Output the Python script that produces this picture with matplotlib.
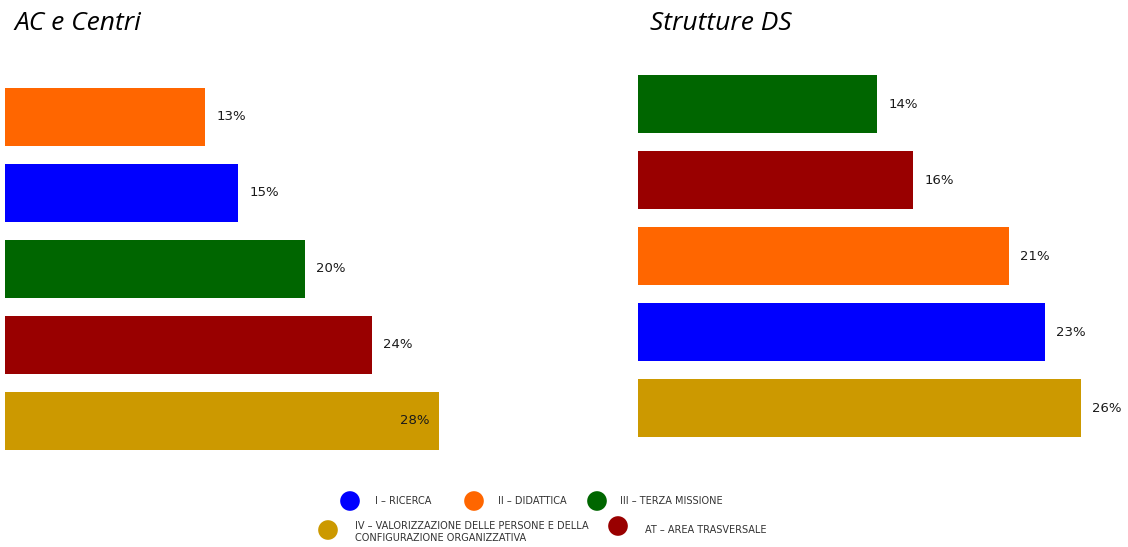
import matplotlib
matplotlib.use("Agg")
import matplotlib.pyplot as plt

# ---- data ----
categories = ["I – RICERCA", "II – DIDATTICA", "III – TERZA MISSIONE",
              "IV – VALORIZZAZIONE DELLE PERSONE E DELLA\nCONFIGURAZIONE ORGANIZZATIVA",
              "AT – AREA TRASVERSALE"]
colors = {"I – RICERCA": "#0000FF", "II – DIDATTICA": "#FF6600",
          "III – TERZA MISSIONE": "#006600",
          "IV – VALORIZZAZIONE DELLE PERSONE E DELLA\nCONFIGURAZIONE ORGANIZZATIVA": "#CC9900",
          "AT – AREA TRASVERSALE": "#990000"}

ac_order = ["II – DIDATTICA", "I – RICERCA", "III – TERZA MISSIONE",
            "AT – AREA TRASVERSALE", categories[3]]
ac_values = [13.04, 15.19, 19.56, 23.92, 28.29]

ds_order = ["III – TERZA MISSIONE", "AT – AREA TRASVERSALE", "II – DIDATTICA",
            "I – RICERCA", categories[3]]
ds_values = [13.78, 15.85, 21.38, 23.46, 25.53]

W, H = 1128, 547
fig = plt.figure(figsize=(W / 100, H / 100), dpi=100)


def px_axes(x0, y_top, w, h):
    return fig.add_axes([x0 / W, (H - y_top - h) / H, w / W, h / H])


def panel(ax, order, values, xmax, inside_last=False):
    ys = list(range(len(order)))
    ax.barh(ys, values, height=58 / 76, color=[colors[c] for c in order],
            edgecolor="none")
    ax.set_xlim(0, xmax)
    ax.set_ylim(len(order) - 0.5, -0.5)
    ax.axis("off")
    for i, v in enumerate(values):
        lab = f"{round(v)}%"
        if inside_last and i == len(values) - 1:
            ax.annotate(lab, (v, i), xytext=(-7, 0), textcoords="offset points",
                        ha="right", va="center", fontsize=9.5, color="#1a1a1a")
        else:
            ax.annotate(lab, (v, i), xytext=(8, 0), textcoords="offset points",
                        ha="left", va="center", fontsize=9.5, color="#1a1a1a")


ax1 = px_axes(5, 79, 30 * 15.34, 380)
panel(ax1, ac_order, ac_values, 30, inside_last=True)
ax2 = px_axes(638, 66, 28 * 17.35, 380)
panel(ax2, ds_order, ds_values, 28)

fig.text(14 / W, 1 - 23 / H, "AC e Centri", fontsize=19, style="italic",
         family="Open Sans", va="center", ha="left")
fig.text(650 / W, 1 - 23 / H, "Strutture DS", fontsize=19, style="italic",
         family="Open Sans", va="center", ha="left")

# ---- legend ----
lg = fig.add_axes([0, 0, 1, 1])
lg.set_xlim(0, W)
lg.set_ylim(H, 0)
lg.axis("off")
legend_pos = {categories[0]: (350, 501, 375, 501),
              categories[1]: (474, 501, 498, 501),
              categories[2]: (597, 501, 620, 501),
              categories[3]: (328, 530, 355, 532),
              categories[4]: (618, 526, 645, 530)}
for c in categories:
    cx, cy, tx, ty = legend_pos[c]
    lg.scatter([cx], [cy], s=200, color=colors[c], edgecolors="none")
    lg.text(tx, ty, c, fontsize=7, va="center", ha="left", color="#333333",
            linespacing=1.35)

fig.savefig("out.png", dpi=100)
